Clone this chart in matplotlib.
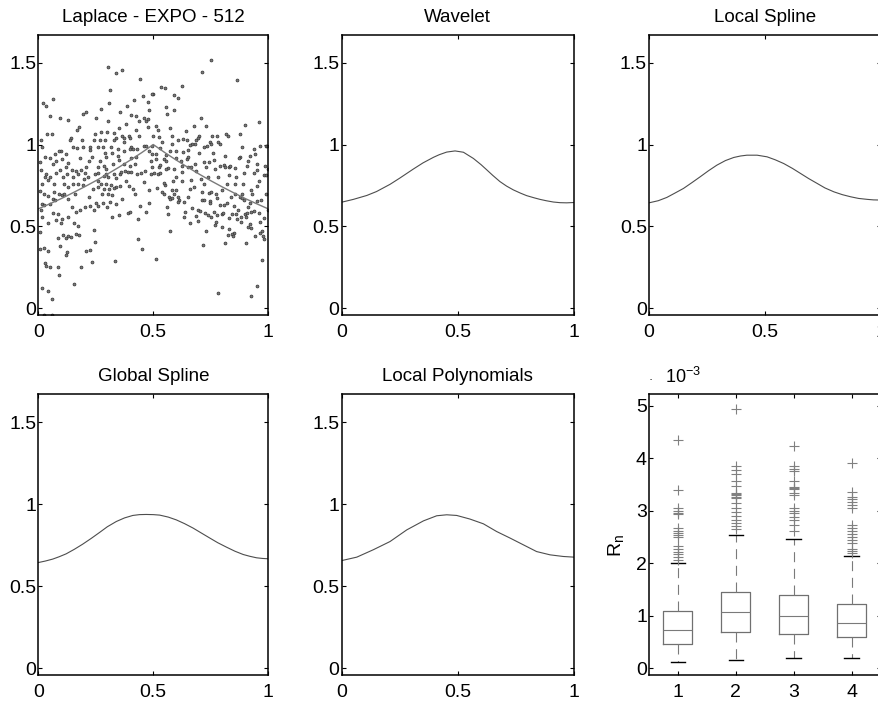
import matplotlib.pyplot as plt
from matplotlib.ticker import FormatStrFormatter

plt.rcParams['font.family'] = ['Liberation Sans', 'DejaVu Sans']
plt.rcParams['mathtext.fontset'] = 'custom'
plt.rcParams['mathtext.rm'] = 'Liberation Sans'

# noisy observations (Laplace design, n = 512)
noisy_x = [
    0.020, 0.035, 0.064, 0.049, 0.096, 0.128, 0.206, 0.194, 0.177, 0.168, 0.249,
    0.038, 0.058, 0.012, 0.142, 0.136, 0.188, 0.246,
    0.014, 0.029, 0.052, 0.072, 0.099, 0.119, 0.151, 0.168, 0.194, 0.223, 0.226,
    0.006, 0.064, 0.078, 0.104, 0.130, 0.148, 0.162, 0.186, 0.209, 0.220, 0.232, 0.246,
    0.012, 0.032, 0.052, 0.075, 0.093, 0.107, 0.125, 0.151, 0.171, 0.203, 0.214,
    0.017, 0.043, 0.067, 0.090, 0.101, 0.113, 0.130, 0.151, 0.174, 0.194,
    0.006, 0.026, 0.043, 0.064,
    0.014, 0.023, 0.049, 0.072, 0.130, 0.145, 0.162, 0.180, 0.203, 0.223, 0.241,
    0.012, 0.064, 0.087, 0.104, 0.128,
    0.017, 0.041, 0.078, 0.099, 0.154, 0.171,
    0.006, 0.084, 0.107, 0.119, 0.130, 0.142, 0.162, 0.177,
    0.006, 0.023, 0.096, 0.125, 0.122, 0.043, 0.209, 0.226,
    0.235, 0.029, 0.032, 0.049, 0.084, 0.090, 0.186,
    0.154, 0.017, 0.043, 0.058, 0.023, 0.061,
    0.241, 0.246,
    0.030, 0.070, 0.110, 0.160, 0.200, 0.240, 0.090, 0.180, 0.120, 0.220,
    # 0.25 - 0.5
    0.304, 0.336, 0.362, 0.443, 0.313, 0.307, 0.272, 0.301, 0.357, 0.385,
    0.414, 0.455, 0.475, 0.499, 0.403, 0.423, 0.438, 0.458, 0.467, 0.478,
    0.481, 0.380, 0.426, 0.475, 0.272, 0.299, 0.328, 0.365, 0.394, 0.339,
    0.371, 0.400, 0.243, 0.267, 0.290, 0.330, 0.374, 0.499, 0.458, 0.467,
    0.261, 0.281, 0.316, 0.403, 0.345, 0.371, 0.400, 0.429, 0.481, 0.290,
    0.345, 0.296, 0.351, 0.403, 0.426, 0.493, 0.325, 0.371, 0.400, 0.261,
    0.284, 0.258, 0.296, 0.377, 0.388, 0.403, 0.429, 0.446, 0.464, 0.490,
    0.501, 0.293, 0.328, 0.354, 0.284, 0.304, 0.258, 0.339, 0.272, 0.296,
    0.316, 0.336, 0.354, 0.330, 0.394, 0.412, 0.420, 0.261, 0.284, 0.307,
    0.275, 0.301, 0.319, 0.365, 0.481, 0.252, 0.281, 0.310, 0.336, 0.261,
    0.443, 0.391, 0.397, 0.467, 0.322, 0.351, 0.435, 0.432, 0.449, 0.333,
    0.270, 0.320, 0.380, 0.420, 0.460, 0.490, 0.350, 0.440, 0.300, 0.360,
    0.410, 0.480,
    # 0.5 - 0.75
    0.751, 0.711, 0.496, 0.533, 0.551, 0.589, 0.606, 0.623, 0.557, 0.591,
    0.559, 0.707, 0.513, 0.519, 0.574, 0.675, 0.727, 0.641, 0.699, 0.693,
    0.687, 0.681, 0.670, 0.757, 0.745, 0.751, 0.525, 0.536, 0.580, 0.609,
    0.629, 0.646, 0.661, 0.733, 0.496, 0.571, 0.600, 0.629, 0.649, 0.719,
    0.510, 0.554, 0.513, 0.548, 0.557, 0.597, 0.646, 0.652, 0.719, 0.742,
    0.496, 0.525, 0.528, 0.565, 0.588, 0.623, 0.649, 0.664, 0.727, 0.519,
    0.530, 0.554, 0.623, 0.684, 0.707, 0.664, 0.623, 0.586, 0.516, 0.551,
    0.548, 0.539, 0.548, 0.580, 0.597, 0.568, 0.574, 0.591, 0.609, 0.612,
    0.606, 0.583, 0.632, 0.652, 0.678, 0.713, 0.710, 0.719, 0.742, 0.751,
    0.745, 0.748, 0.670, 0.693, 0.704, 0.638, 0.687, 0.725, 0.736, 0.635,
    0.661, 0.696, 0.565, 0.574, 0.727, 0.716, 0.510,
    0.530, 0.600, 0.660, 0.700, 0.740, 0.620, 0.560, 0.680, 0.720, 0.580,
    # 0.75 - 1
    0.864, 0.959, 0.899, 0.875, 0.777, 0.783, 0.788, 0.814, 0.823, 0.887,
    0.936, 0.942, 0.962, 0.988, 0.994, 0.875, 0.872, 0.910, 0.765, 0.791,
    0.806, 0.812, 0.829, 0.835, 0.855, 0.907, 0.951, 0.986, 1.000, 0.983,
    0.991, 0.829, 0.893, 0.939, 0.768, 0.820, 0.855, 0.951, 0.926, 0.771,
    0.855, 0.884, 0.777, 0.875, 0.887, 0.809, 0.820, 0.852, 0.893, 0.922,
    0.951, 0.762, 0.777, 0.797, 0.803, 0.841, 0.861, 0.881, 0.899, 0.907,
    0.926, 0.936, 0.959, 0.997, 0.751, 0.771, 0.768, 0.864, 0.881, 0.904,
    0.910, 0.922, 0.926, 0.965, 0.797, 0.849, 0.841, 0.845, 0.823, 0.812,
    0.829, 0.901, 0.942, 0.962, 0.974, 0.980, 0.977, 0.974, 0.951, 0.783,
    0.925,
    0.780, 0.800, 0.840, 0.860, 0.890, 0.910, 0.930, 0.950, 0.970, 0.990,
    0.760, 0.810, 0.830, 0.870, 0.920, 0.960, 0.980, 0.790,
]
noisy_y = [
    1.254, 1.234, 1.280, 1.173, 1.165, 1.152, 1.201, 1.185, 1.108, 1.091, 1.165,
    1.067, 1.063, 1.026, 1.043, 1.026, 1.026, 1.067,
    0.982, 0.921, 0.917, 0.941, 0.961, 0.941, 0.986, 0.978, 0.982, 0.986, 0.965,
    0.894, 0.884, 0.900, 0.909, 0.888, 0.843, 0.839, 0.843, 0.864, 0.900, 0.925, 0.819,
    0.843, 0.819, 0.803, 0.827, 0.843, 0.803, 0.823, 0.803, 0.819, 0.827, 0.803,
    0.762, 0.783, 0.758, 0.701, 0.693, 0.697, 0.742, 0.758, 0.762, 0.754,
    0.717, 0.701, 0.685, 0.669,
    0.636, 0.628, 0.636, 0.661, 0.665, 0.620, 0.591, 0.600, 0.616, 0.624, 0.600,
    0.600, 0.583, 0.575, 0.543, 0.559,
    0.559, 0.518, 0.539, 0.518, 0.522, 0.502,
    0.465, 0.429, 0.449, 0.429, 0.441, 0.433, 0.453, 0.449,
    0.364, 0.368, 0.380, 0.343, 0.323, 0.352, 0.352, 0.356,
    0.283, 0.274, 0.258, 0.250, 0.250, 0.201, 0.250,
    0.148, 0.124, 0.108, 0.059, -0.043, -0.043,
    0.478, 0.404,
    0.800, 0.710, 0.760, 0.700, 0.790, 0.730, 0.960, 0.920, 0.860, 0.680,
    # 0.25 - 0.5
    1.474, 1.437, 1.457, 1.400, 1.335, 1.254, 1.217, 1.144, 1.201, 1.238,
    1.274, 1.295, 1.262, 1.307, 1.181, 1.177, 1.144, 1.165, 1.144, 1.157,
    1.213, 1.128, 1.091, 1.108, 1.079, 1.079, 1.071, 1.051, 1.051, 1.043,
    1.043, 1.039, 1.026, 1.026, 1.026, 1.026, 1.014, 1.051, 0.994, 0.994,
    0.986, 0.986, 0.986, 0.986, 0.970, 0.961, 0.970, 0.970, 0.961, 0.949,
    0.929, 0.925, 0.904, 0.917, 0.925, 0.945, 0.884, 0.880, 0.868, 0.864,
    0.868, 0.827, 0.848, 0.839, 0.835, 0.835, 0.823, 0.827, 0.839, 0.823,
    0.827, 0.819, 0.819, 0.823, 0.807, 0.803, 0.778, 0.795, 0.762, 0.758,
    0.754, 0.742, 0.746, 0.734, 0.746, 0.726, 0.701, 0.742, 0.726, 0.726,
    0.701, 0.697, 0.693, 0.669, 0.640, 0.640, 0.640, 0.652, 0.636, 0.624,
    0.624, 0.579, 0.587, 0.591, 0.559, 0.567, 0.547, 0.425, 0.364, 0.287,
    0.900, 0.950, 0.780, 0.880, 0.770, 0.900, 1.100, 1.050, 0.620, 0.830,
    0.970, 0.720,
    # 0.5 - 0.75
    1.514, 1.445, 1.307, 1.352, 1.343, 1.303, 1.287, 1.356, 1.230, 1.213,
    1.185, 1.161, 1.116, 1.091, 1.100, 1.112, 1.112, 1.083, 1.055, 1.043,
    1.026, 1.006, 1.002, 1.055, 1.014, 1.002, 1.047, 1.018, 1.006, 1.026,
    1.035, 1.026, 0.998, 0.990, 0.994, 0.961, 0.961, 0.957, 0.965, 0.982,
    0.941, 0.937, 0.909, 0.913, 0.900, 0.917, 0.913, 0.925, 0.896, 0.892,
    0.864, 0.864, 0.876, 0.856, 0.848, 0.872, 0.860, 0.860, 0.860, 0.823,
    0.827, 0.848, 0.831, 0.839, 0.791, 0.783, 0.778, 0.778, 0.734, 0.750,
    0.766, 0.713, 0.701, 0.722, 0.722, 0.681, 0.665, 0.697, 0.681, 0.661,
    0.648, 0.673, 0.648, 0.681, 0.738, 0.709, 0.661, 0.661, 0.705, 0.709,
    0.657, 0.640, 0.612, 0.600, 0.596, 0.591, 0.563, 0.583, 0.567, 0.555,
    0.522, 0.535, 0.575, 0.470, 0.470, 0.384, 0.299,
    0.980, 0.800, 0.730, 0.950, 0.800, 0.900, 0.620, 0.880, 0.760, 1.050,
    # 0.75 - 1
    1.396, 1.136, 1.120, 1.063, 1.055, 1.014, 1.006, 1.063, 1.055, 0.982,
    0.974, 0.945, 0.994, 0.994, 0.994, 0.921, 0.917, 0.900, 0.904, 0.868,
    0.876, 0.860, 0.860, 0.872, 0.856, 0.868, 0.843, 0.872, 0.852, 0.811,
    0.815, 0.815, 0.827, 0.827, 0.848, 0.762, 0.762, 0.746, 0.722, 0.701,
    0.701, 0.701, 0.673, 0.681, 0.673, 0.628, 0.640, 0.624, 0.661, 0.640,
    0.657, 0.591, 0.567, 0.575, 0.579, 0.575, 0.575, 0.559, 0.575, 0.583,
    0.591, 0.596, 0.583, 0.600, 0.559, 0.530, 0.506, 0.543, 0.530, 0.555,
    0.494, 0.514, 0.490, 0.526, 0.498, 0.457, 0.453, 0.441, 0.449, 0.400,
    0.486, 0.396, 0.441, 0.457, 0.470, 0.425, 0.441, 0.295, 0.136, 0.091,
    0.075,
    0.800, 0.720, 0.680, 0.800, 0.760, 0.620, 0.700, 0.880, 0.660, 0.700,
    0.950, 0.930, 0.550, 0.600, 0.930, 0.780, 0.550, 0.630,
]

# true regression function
true_x = [0, 0.05, 0.1, 0.15, 0.2, 0.25, 0.3, 0.35, 0.4, 0.45, 0.5,
          0.55, 0.6, 0.65, 0.7, 0.75, 0.8, 0.85, 0.9, 0.95, 1]
true_y = [0.607, 0.638, 0.670, 0.705, 0.741, 0.779, 0.819, 0.861, 0.905, 0.951, 1.0,
          0.951, 0.905, 0.861, 0.819, 0.779, 0.741, 0.705, 0.670, 0.638, 0.607]

# fitted curves
wav_x = [0, 0.05, 0.108, 0.15, 0.208, 0.25, 0.308, 0.35, 0.395, 0.42, 0.452, 0.488,
         0.524, 0.567, 0.60, 0.624, 0.65, 0.681, 0.71, 0.739, 0.77, 0.796, 0.83,
         0.854, 0.88, 0.911, 0.94, 0.968, 1.0]
wav_y = [0.648, 0.665, 0.689, 0.713, 0.757, 0.795, 0.850, 0.888, 0.922, 0.938, 0.954, 0.961,
         0.953, 0.915, 0.877, 0.846, 0.812, 0.774, 0.746, 0.723, 0.703, 0.688, 0.674,
         0.665, 0.657, 0.649, 0.645, 0.644, 0.646]

lspl_x = [0, 0.04, 0.077, 0.11, 0.149, 0.185, 0.221, 0.257, 0.293, 0.33, 0.366, 0.395,
          0.423, 0.467, 0.510, 0.545, 0.582, 0.62, 0.655, 0.69, 0.727, 0.76, 0.799,
          0.835, 0.871, 0.905, 0.944, 0.97, 1.0]
lspl_y = [0.644, 0.657, 0.677, 0.702, 0.732, 0.767, 0.803, 0.840, 0.874, 0.902, 0.921, 0.930,
          0.935, 0.935, 0.925, 0.907, 0.884, 0.854, 0.823, 0.792, 0.762, 0.735, 0.711,
          0.694, 0.681, 0.671, 0.665, 0.662, 0.661]

gspl_x = [0, 0.03, 0.0625, 0.09, 0.121, 0.157, 0.193, 0.23, 0.266, 0.30, 0.339, 0.375,
          0.411, 0.44, 0.469, 0.50, 0.528, 0.565, 0.6, 0.636, 0.673, 0.71, 0.746,
          0.78, 0.818, 0.855, 0.891, 0.92, 0.949, 0.975, 1.0]
gspl_y = [0.644, 0.653, 0.665, 0.679, 0.697, 0.725, 0.756, 0.791, 0.827, 0.862, 0.894, 0.916,
          0.931, 0.936, 0.937, 0.936, 0.933, 0.921, 0.904, 0.881, 0.854, 0.823, 0.793,
          0.765, 0.738, 0.713, 0.693, 0.682, 0.673, 0.669, 0.667]

lpol_x = [0, 0.065, 0.136, 0.208, 0.280, 0.352, 0.409, 0.452, 0.495, 0.552, 0.610,
          0.667, 0.725, 0.782, 0.839, 0.897, 0.954, 1.0]
lpol_y = [0.656, 0.677, 0.722, 0.772, 0.843, 0.898, 0.929, 0.935, 0.931, 0.909, 0.880,
          0.833, 0.793, 0.752, 0.711, 0.691, 0.681, 0.677]

# R_n boxplot summaries (x 1e-3)
rn_whislo = [0.11, 0.165, 0.20, 0.20]
rn_q1 = [0.46, 0.69, 0.656, 0.60]
rn_med = [0.73, 1.07, 0.99, 0.866]
rn_q3 = [1.09, 1.45, 1.40, 1.22]
rn_whishi = [2.00, 2.54, 2.46, 2.13]
rn_fliers = [
    [4.34, 3.39, 3.05, 3.00, 2.95, 2.93, 2.68, 2.62, 2.58, 2.54, 2.50, 2.32, 2.27,
     2.22, 2.17, 2.12, 2.06],
    [4.94, 3.86, 3.78, 3.70, 3.56, 3.48, 3.34, 3.32, 3.30, 3.27, 3.24, 3.15, 3.06,
     2.98, 2.90, 2.82, 2.76, 2.70, 2.65],
    [4.23, 3.86, 3.80, 3.75, 3.57, 3.46, 3.44, 3.41, 3.33, 3.29, 3.05, 3.00, 2.96,
     2.88, 2.82, 2.72, 2.62],
    [3.90, 3.36, 3.27, 3.22, 3.16, 3.10, 3.05, 2.73, 2.68, 2.62, 2.56, 2.50, 2.44,
     2.38, 2.27, 2.24, 2.20],
]

W, H = 879, 702
fig = plt.figure(figsize=(W / 100, H / 100), dpi=100)


def add_ax(l, t, r, b):
    return fig.add_axes([l / W, 1 - b / H, (r - l) / W, (b - t) / H])


def style(ax):
    for s in ax.spines.values():
        s.set_linewidth(1.1)
    ax.tick_params(direction='in', top=True, right=True, length=3, width=0.8,
                   labelsize=14)
    ax.tick_params(axis='x', pad=6.5)
    ax.tick_params(axis='y', pad=1.5)


def curve_ax(ax, title):
    style(ax)
    ax.set_xlim(0, 1)
    ax.set_ylim(-0.041, 1.669)
    ax.set_xticks([0, 0.5, 1])
    ax.set_yticks([0, 0.5, 1, 1.5])
    ax.xaxis.set_major_formatter(FormatStrFormatter('%g'))
    ax.yaxis.set_major_formatter(FormatStrFormatter('%g'))
    ax.set_title(title, fontsize=13.5, pad=9.6)


cols = [(38.3, 268.3), (341.7, 574), (649, 880.5)]
rows = [(35, 315), (394.3, 675)]
line_col = '#4d4d4d'

ax1 = add_ax(cols[0][0], rows[0][0], cols[0][1], rows[0][1])
curve_ax(ax1, 'Laplace - EXPO - 512')
ax1.plot(noisy_x, noisy_y, 'o', ls='none', ms=2.1, mfc='#7a7a7a', mec='#333333', mew=0.5)
ax1.plot(true_x, true_y, color='#7a7a7a', lw=1.0)

ax2 = add_ax(cols[1][0], rows[0][0], cols[1][1], rows[0][1])
curve_ax(ax2, 'Wavelet')
ax2.plot(wav_x, wav_y, color=line_col, lw=0.8)

ax3 = add_ax(cols[2][0], rows[0][0], cols[2][1], rows[0][1])
curve_ax(ax3, 'Local Spline')
ax3.plot(lspl_x, lspl_y, color=line_col, lw=0.8)

ax4 = add_ax(cols[0][0], rows[1][0], cols[0][1], rows[1][1])
curve_ax(ax4, 'Global Spline')
ax4.plot(gspl_x, gspl_y, color=line_col, lw=0.8)

ax5 = add_ax(cols[1][0], rows[1][0], cols[1][1], rows[1][1])
curve_ax(ax5, 'Local Polynomials')
ax5.plot(lpol_x, lpol_y, color=line_col, lw=0.8)

# boxplot of the risk R_n for the four estimators
ax6 = add_ax(cols[2][0], rows[1][0], cols[2][1], rows[1][1])
style(ax6)
stats = []
for i in range(4):
    stats.append(dict(whislo=rn_whislo[i], q1=rn_q1[i], med=rn_med[i], q3=rn_q3[i],
                      whishi=rn_whishi[i], fliers=rn_fliers[i]))
ax6.bxp(stats, positions=[1, 2, 3, 4], widths=0.5, capwidths=0.25,
        boxprops=dict(color='#707070', lw=0.9),
        medianprops=dict(color='#7a7a7a', lw=0.8),
        whiskerprops=dict(color='#7a7a7a', lw=0.8, linestyle=(0, (9, 6))),
        capprops=dict(color='black', lw=1.0),
        flierprops=dict(marker='+', markeredgecolor='#808080', markersize=7.5,
                        mew=0.8, linestyle='none'))
ax6.set_xlim(0.5, 4.5)
ax6.set_ylim(-0.13, 5.218)
ax6.set_xticks([1, 2, 3, 4])
ax6.set_xticklabels(['1', '2', '3', '4'])
ax6.set_yticks([0, 1, 2, 3, 4, 5])
ax6.yaxis.set_major_formatter(FormatStrFormatter('%g'))
ax6.set_ylabel(r'R$_{\mathregular{n}}$', fontsize=14)
ax6.yaxis.set_label_coords(-0.097, 0.46)
ax6.text(0.069, 1.04, r'10$^{\mathregular{-3}}$', transform=ax6.transAxes,
         fontsize=13, va='baseline', ha='left')
ax6.text(0.007, 1.051, '·', transform=ax6.transAxes, fontsize=9,
         va='center', ha='center')

fig.savefig('out.png', dpi=100)
